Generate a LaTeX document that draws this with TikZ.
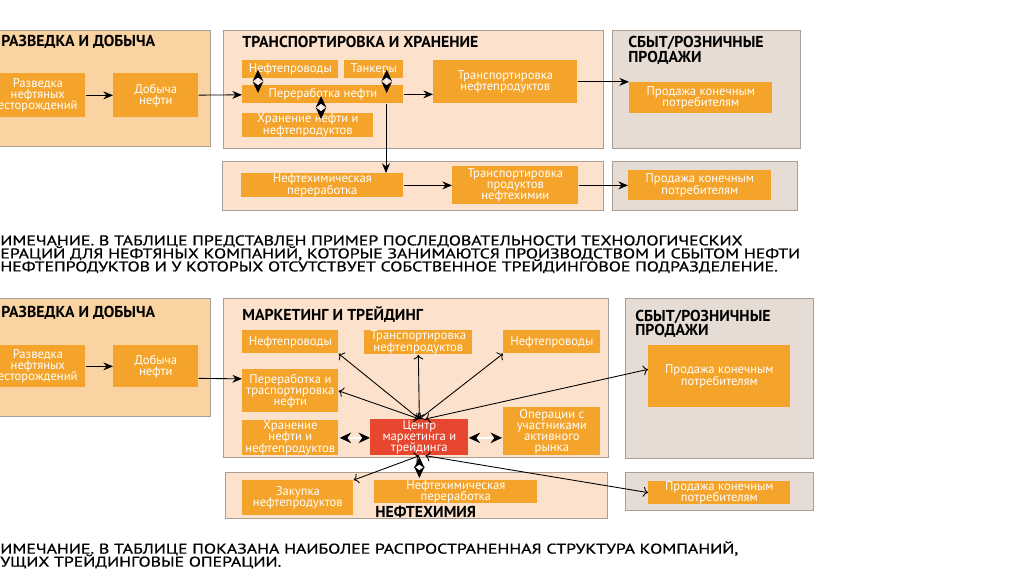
\documentclass[tikz,border=0pt]{standalone}
\usepackage{fontspec}
\setmainfont{PT Sans}
\newfontfamily\notefont[FakeStretch=1.26,FakeBold=0.8]{PT Sans}
\usetikzlibrary{arrows.meta}

\definecolor{secorange}{HTML}{F9D3A2}
\definecolor{secpeach}{HTML}{FCE2CC}
\definecolor{secgray}{HTML}{E6DCD3}
\definecolor{boxorange}{HTML}{F4A42A}
\definecolor{boxred}{HTML}{E6472E}
\definecolor{edgegray}{HTML}{A99E95}

\newcommand\tightlines{\setlength{\lineskiplimit}{-10pt}}

\tikzset{
  sz/.style 2 args={minimum width=#1*0.02cm, minimum height=#2*0.02cm},
  sec/.style={draw=edgegray, line width=0.7pt, anchor=north west, inner sep=0pt},
  obox/.style={fill=boxorange, text=white, anchor=north west, inner xsep=1pt, inner ysep=0pt, align=center,
    font=\fontsize{7.2}{6.3}\selectfont\tightlines},
  title/.style={anchor=west, inner sep=0pt, align=left, font=\bfseries\fontsize{9}{8.5}\selectfont\tightlines},
  note/.style={anchor=north west, inner sep=0pt, align=left,
    font=\notefont\fontsize{8}{7.4}\selectfont\tightlines},
  arr/.style={-{Stealth[length=5.5pt,width=4.5pt]}, line width=0.5pt},
  dbl/.style={{Stealth[length=6.5pt,width=6pt,color=black]}-{Stealth[length=6.5pt,width=6pt,color=black]},
    draw=white, line width=0.8pt},
}

\begin{document}
\begin{tikzpicture}[x=0.02cm, y=-0.02cm]
	\useasboundingbox (0,0) rectangle (1024,576);
	\fill[white] (0,0) rectangle (1024,576);
	\clip (0,0) rectangle (1024,576);
	
	% верхняя схема: разведка и добыча
	\node[sec, fill=secorange, sz={220}{116}] (secA) at (-10,30) {};
	\node[title] (tA) at (1,42) {РАЗВЕДКА И ДОБЫЧА};
	\node[obox, sz={95}{44}] (razv) at (-10,73) {Разведка\\нефтяных\\есторождений};
	\node[obox, sz={85}{44}] (dob) at (113,73) {Добыча\\нефти};
	
	% транспортировка и хранение
	\node[sec, fill=secpeach, sz={380}{118}] (secB) at (223,30) {};
	\node[title] (tB) at (242,42) {ТРАНСПОРТИРОВКА И ХРАНЕНИЕ};
	\node[obox, sz={96}{18}] (pipe) at (242,60) {Нефтепроводы};
	\node[obox, sz={59}{18}] (tank) at (344,60) {Танкеры};
	\node[obox, sz={161}{18}] (perer) at (242,85) {Переработка нефти};
	\node[obox, sz={131}{24}] (stor) at (242,113) {Хранение нефти и\\нефтепродуктов};
	\node[obox, sz={144}{43}] (trans) at (433,60) {Транспортировка\\нефтепродуктов};
	
	% сбыт
	\node[sec, fill=secgray, sz={188}{118}] (secC) at (612,30) {};
	\node[title, anchor=north west] (tC) at (628,36) {СБЫТ/РОЗНИЧНЫЕ\\ПРОДАЖИ};
	\node[obox, sz={143}{31}] (sale) at (629,82) {Продажа конечным\\потребителям};
	
	% нефтехимия
	\node[sec, fill=secpeach, sz={381}{49}] (secD) at (222,161) {};
	\node[obox, sz={162}{24}] (petro) at (241,173) {Нефтехимическая\\переработка};
	\node[obox, sz={126}{38}] (ptrans) at (452,166) {Транспортировка\\продуктов\\нефтехимии};
	\node[sec, fill=secgray, sz={185}{49}] (secE) at (612,161) {};
	\node[obox, sz={143}{30}] (psale) at (628,170) {Продажа конечным\\потребителям};
	
	\draw[arr] (razv) -- (dob);
	\draw[arr] (dob) -- (perer);
	\draw[dbl] ([shift={(16,-9)}]pipe.south west) -- ([shift={(16,8)}]perer.north west);
	\draw[dbl] ([shift={(-17,-9)}]tank.south east) -- ([shift={(-17,8)}]perer.north east);
	\draw[dbl] ([shift={(79,-17)}]stor.north west) -- ([shift={(79,6)}]stor.north west);
	\draw[arr] (perer) -- (perer -| trans.west);
	\draw[arr] (trans) -- (trans -| sale.west);
	\draw[arr] (perer.south -| 386,0) -- (petro.north -| 386,0);
	\draw[arr] (petro) -- (petro -| ptrans.west);
	\draw[arr] (ptrans) -- (ptrans -| psale.west);
	
	\node[note] (noteA) at (0,235) {ИМЕЧАНИЕ. В ТАБЛИЦЕ ПРЕДСТАВЛЕН ПРИМЕР ПОСЛЕДОВАТЕЛЬНОСТИ ТЕХНОЛОГИЧЕСКИХ\\
		ЕРАЦИЙ ДЛЯ НЕФТЯНЫХ КОМПАНИЙ, КОТОРЫЕ ЗАНИМАЮТСЯ ПРОИЗВОДСТВОМ И СБЫТОМ НЕФТИ\\
		НЕФТЕПРОДУКТОВ И У КОТОРЫХ ОТСУТСТВУЕТ СОБСТВЕННОЕ ТРЕЙДИНГОВОЕ ПОДРАЗДЕЛЕНИЕ.};
	
	% нижняя схема: разведка и добыча
	\node[sec, fill=secorange, sz={220}{118}] (secF) at (-10,298) {};
	\node[title] (tF) at (1,313) {РАЗВЕДКА И ДОБЫЧА};
	\node[obox, sz={95}{42}] (razv2) at (-10,345) {Разведка\\нефтяных\\есторождений};
	\node[obox, sz={85}{42}] (dob2) at (113,345) {Добыча\\нефти};
	
	% маркетинг и трейдинг
	\node[sec, fill=secpeach, sz={385}{159}] (secG) at (223,298) {};
	\node[title] (tG) at (242,315) {МАРКЕТИНГ И ТРЕЙДИНГ};
	\node[obox, sz={96}{23}] (pipeA) at (242,330) {Нефтепроводы};
	\node[obox, sz={108}{24}] (trn) at (364,330) {Транспортировка\\нефтепродуктов};
	\node[obox, sz={97}{23}] (pipeB) at (503,330) {Нефтепроводы};
	\node[obox, sz={96}{43}] (perer2) at (242,369) {Переработка и\\траспортировка\\нефти};
	\node[obox, sz={96}{35}] (stor2) at (242,420) {Хранение\\нефти и\\нефтепродуктов};
	\node[obox, fill=boxred, sz={98}{36}] (ctr) at (370,419) {Центр\\маркетинга и\\трейдинга};
	\node[obox, sz={97}{48}] (ops) at (503,407) {Операции с\\участниками\\активного\\рынка};
	
	% нефтехимия
	\node[sec, fill=secpeach, sz={382}{46}] (secH) at (225,472) {};
	\node[obox, sz={111}{35}] (buy) at (242,480) {Закупка\\нефтепродуктов};
	\node[obox, sz={163}{22}] (chem) at (374,480) {Нефтехимическая\\переработка};
	\node[title] (tH) at (375,512) {НЕФТЕХИМИЯ};
	
	% сбыт
	\node[sec, fill=secgray, sz={188}{160}] (secI) at (625,298) {};
	\node[title, anchor=north west, font=\bfseries\fontsize{9}{8}\selectfont\tightlines] (tI) at (635,310) {СБЫТ/РОЗНИЧНЫЕ\\ПРОДАЖИ};
	\node[obox, sz={142}{62}] (sale2) at (648,345) {Продажа конечным\\потребителям};
	\node[sec, fill=secgray, sz={188}{38}] (secJ) at (625,472) {};
	\node[obox, sz={142}{22}] (sale3) at (648,481) {Продажа конечным\\потребителям};
	
	\draw[arr] (razv2) -- (dob2);
	\draw[arr] ([shift={(0,12)}]dob2.east) -- ([shift={(0,-12)}]perer2.west);
	\draw[arr, <->] (ctr.north) -- (pipeA.south east);
	\draw[arr, <->] (ctr.north) -- (trn.south);
	\draw[arr, <->] (ctr.north) -- (pipeB.south west);
	\draw[arr, <->] (ctr.north) -- (perer2.east);
	\draw[arr, <->] ([shift={(6,0)}]ctr.north) -- ([shift={(0,-7)}]sale2.west);
	\draw[dbl] ([shift={(1,0)}]stor2.east) -- (ctr.west |- stor2.east);
	\draw[dbl] (ctr.east |- stor2.east) -- ([shift={(-1,0)}]ops.west |- stor2.east);
	\draw[arr, <->] (ctr.south) -- (buy.north east);
	\draw[dbl] ([shift={(0,1)}]ctr.south) -- ([shift={(0,-2)}]ctr.south |- chem.north);
	\draw[arr, <->] ([shift={(6,0)}]ctr.south) -- (sale3.west);
	
	\node[note] (noteB) at (0,541) {ИМЕЧАНИЕ. В ТАБЛИЦЕ ПОКАЗАНА НАИБОЛЕЕ РАСПРОСТРАНЕННАЯ СТРУКТУРА КОМПАНИЙ,\\
		УЩИХ ТРЕЙДИНГОВЫЕ ОПЕРАЦИИ.};
\end{tikzpicture}
\end{document}
